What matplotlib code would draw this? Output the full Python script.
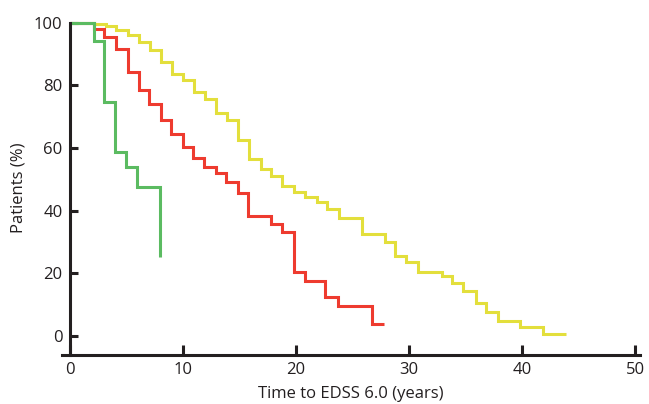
import matplotlib
matplotlib.use("Agg")
import matplotlib.pyplot as plt

# Data (years, % patients without EDSS 6.0)
green_t = [0, 2.16, 3.02, 4.02, 5.02, 5.96, 8.0]
green_s = [100, 94.2, 74.8, 58.7, 54.0, 47.7, 25.2]

red_t = [0, 2.16, 3.05, 4.1, 5.2, 6.17, 7.05, 8.05, 9.0, 10.0,
         10.9, 11.9, 12.9, 13.8, 14.9, 15.8, 17.8, 18.8, 19.8, 20.8,
         22.6, 23.7, 26.7, 27.8]
red_s = [100, 98.0, 95.3, 91.5, 84.3, 78.6, 74.0, 69.0, 64.4, 60.4,
         56.7, 54.0, 52.0, 49.1, 45.6, 38.2, 35.7, 33.3, 20.4, 17.6,
         12.4, 9.5, 3.8, 3.8]

yellow_t = [0, 2.16, 3.2, 4.08, 5.14, 6.17, 7.1, 8.08, 9.05, 10.0,
            11.0, 12.0, 12.97, 13.94, 14.9, 15.83, 16.9, 17.83, 18.77, 19.86,
            20.85, 21.86, 22.77, 23.78, 25.87, 27.84, 28.8, 29.75, 30.76, 32.88,
            33.76, 34.79, 35.88, 36.82, 37.88, 39.77, 41.85, 43.83]
yellow_s = [100, 99.5, 98.9, 97.7, 96.1, 93.9, 91.4, 87.5, 83.6, 81.7,
            77.9, 75.7, 71.1, 69.0, 62.6, 56.5, 53.2, 51.1, 47.9, 45.9,
            44.3, 42.7, 40.6, 37.7, 32.6, 30.0, 25.7, 23.7, 20.4, 19.1,
            16.9, 14.3, 10.5, 7.6, 4.8, 2.9, 0.6, 0.6]

x_ticks = [0, 10, 20, 30, 40, 50]
y_ticks = [0, 20, 40, 60, 80, 100]

plt.rcParams['font.family'] = ['Open Sans', 'DejaVu Sans']

fig = plt.figure(figsize=(6.49, 4.04), dpi=100)
ax = fig.add_axes([0.0949, 0.1213, 0.986 - 0.0949, 0.9515 - 0.1213])

lw = 2.2
kw = dict(where='post', linewidth=lw, solid_joinstyle='miter', solid_capstyle='butt', clip_on=False)
ax.step(yellow_t, yellow_s, color='#E3DF3C', **kw)
ax.step(red_t, red_s, color='#EE3B2F', **kw)
ax.step(green_t, green_s, color='#5BBB61', **kw)

ax.set_xlim(-0.7, 50.4)
ax.set_ylim(-6, 101)

for s in ['top', 'right']:
    ax.spines[s].set_visible(False)
ax.spines['left'].set_position(('data', 0))
ax.spines['left'].set_bounds(-6, 100)
ax.spines['left'].set_linewidth(2.2)
ax.spines['bottom'].set_linewidth(2.2)
ax.spines['left'].set_color('#231F20')
ax.spines['bottom'].set_color('#231F20')

ax.set_xticks(x_ticks)
ax.set_yticks(y_ticks)
ax.tick_params(axis='both', direction='in', width=2.2, color='#231F20',
               labelsize=12, labelcolor='#231F20')
ax.tick_params(axis='x', length=7, pad=5)
ax.tick_params(axis='y', length=6, pad=5)

ax.set_xlabel('Time to EDSS 6.0 (years)', fontsize=12, color='#231F20', labelpad=6)
ax.set_ylabel('Patients (%)', fontsize=12, color='#231F20', labelpad=5)

fig.savefig('out.png', dpi=100)
